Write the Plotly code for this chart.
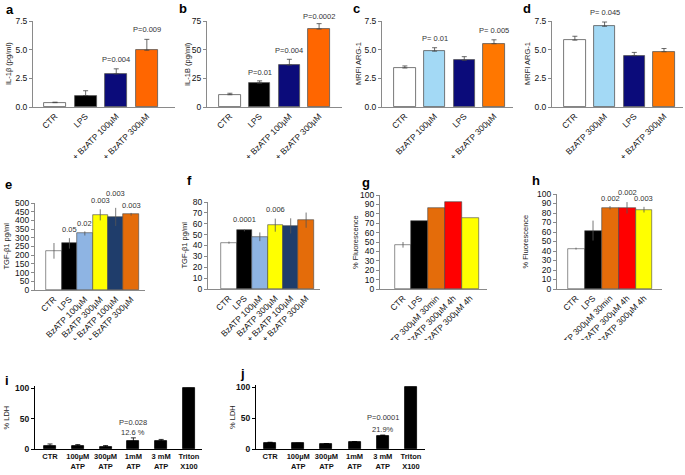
import plotly.graph_objects as go

W, H = 685, 475
FONT = "Liberation Sans, Arial, sans-serif"

# ---------------- data ----------------
a_cats = ["CTR", "LPS", "LPS + BzATP 100µM", "LPS + BzATP 300µM"]
a_vals = [0.38, 1.0, 2.88, 4.95]
a_errs = [0.04, 0.42, 0.45, 0.95]
a_cols = ["#ffffff", "#000000", "#0b0b7a", "#ff6600"]
a_pvals = [None, None, "P=0.004", "P=0.009"]
a_plev = [None, None, 3.6, 6.2]

b_cats = ["CTR", "LPS", "LPS + BzATP 100µM", "LPS + BzATP 300µM"]
b_vals = [10.7, 20.8, 36.6, 68.0]
b_errs = [1.3, 2.0, 5.0, 4.7]
b_cols = ["#ffffff", "#000000", "#0b0b7a", "#ff6600"]
b_pvals = [None, "P=0.01", "P=0.004", "P=0.0002"]
b_plev = [None, 24, 43.5, 73]

c_cats = ["CTR", "BzATP 100µM", "LPS", "LPS + BzATP 300µM"]
c_vals = [3.4, 4.87, 4.07, 5.52]
c_errs = [0.18, 0.3, 0.32, 0.34]
c_cols = ["#ffffff", "#a3d9f5", "#0b0b7a", "#ff7700"]
c_pvals = [None, "P= 0.01", None, "P= 0.005"]
c_plev = [None, 5.37, None, 6.1]

d_cats = ["CTR", "BzATP 300µM", "LPS", "LPS + BzATP 300µM"]
d_vals = [5.83, 7.04, 4.47, 4.82]
d_errs = [0.34, 0.37, 0.29, 0.28]
d_cols = ["#ffffff", "#a3d9f5", "#0b0b7a", "#ff7700"]
d_pvals = [None, "P= 0.045", None, None]
d_plev = [None, 7.68, None, None]

ef_cats = ["CTR", "LPS", "BzATP 100µM", "BzATP 300µM",
           "LPS + BzATP 100µM", "LPS + BzATP 300µM"]
ef_cols = ["#ffffff", "#000000", "#8eb4e3", "#ffff00", "#1f3d6b", "#e46c0a"]
e_vals = [225, 268, 325, 432, 420, 435]
e_errs = [45, 30, 12, 32, 52, 8]
e_pvals = [None, "0.05", "0.02", "0.003", "0.003", "0.003"]
e_plev = [None, 312, 346, 476, 518, 448]

f_vals = [42.6, 53.8, 48.0, 58.7, 58.0, 63.3]
f_errs = [1.0, 0.8, 4.0, 6.0, 7.0, 7.0]
f_pvals = [None, "0.0001", None, "0.006", None, None]
f_plev = [None, 58, None, 67, None, None]

gh_cats = ["CTR", "LPS", "LPS+BzATP 300µM 30min", "LPS+BzATP 300µM 4h",
           "BzATP 300µM 4h"]
gh_cols = ["#ffffff", "#000000", "#e46c0a", "#ff0000", "#ffff00"]
g_vals = [47, 72.5, 86.5, 92.5, 75.5]
g_errs = [3, 0, 0, 0, 0]

h_vals = [42.5, 61.5, 85.5, 85.5, 83.5]
h_errs = [1.0, 10.5, 1.8, 6.0, 3.0]
h_pvals = [None, None, "0.002", "0.002", "0.003"]
h_plev = [None, None, 88, 95, 88]

ij_cats = ["CTR", "100µM<br>ATP", "300µM<br>ATP", "1mM<br>ATP", "3 mM<br>ATP",
           "Triton<br>X100"]
i_vals = [4.5, 4.8, 3.2, 12.6, 12.8, 100]
i_errs = [3.8, 2.5, 2.5, 5.8, 3.0, 0]
i_notes = [(3, 44, "P=0.028"), (3, 27, "12.6 %")]
j_vals = [10.2, 9.0, 8.5, 11.5, 21.9, 100]
j_errs = [0.8, 0.4, 0.4, 0.6, 0.8, 0]
j_notes = [(4, 52, "P=0.0001"), (4, 32, "21.9%")]

# ---------------- layout helpers ----------------
fig = go.Figure()
layout = dict(width=W, height=H, margin=dict(l=0, r=0, t=0, b=0),
              paper_bgcolor="white", plot_bgcolor="white",
              showlegend=False, font=dict(family=FONT, size=8, color="#222"),
              bargap=0)
annotations = []
shapes = []


def px_dom(a, b, total):
    return [a / total, b / total]


def ydom(top, bottom):
    return [1 - bottom / H, 1 - top / H]


def to_paper(v, rng, dom):
    return dom[0] + (v - rng[0]) / (rng[1] - rng[0]) * (dom[1] - dom[0])


def add_panel(n, cats, vals, errs, cols, xr, yr, xpx, ypx, ytick, width,
              style, ytitle, ytitle_x, letter, letter_xy, pvals=None,
              plev=None, sym=False, tickangle=-45, notes=None):
    xa = "x" if n == 1 else f"x{n}"
    ya = "y" if n == 1 else f"y{n}"
    idx = list(range(len(cats)))
    if style == "prism":
        line_col, err_col, axc, lw = "#555555", "#444444", "#8a8a8a", 0.8
    elif style == "excel":
        line_col, err_col, axc, lw = "#444444", "#555555", "#8a8a8a", 0.6
    else:
        line_col, err_col, axc, lw = "#000000", "#000000", "#000000", 0.8
    ey = dict(type="data", array=errs, color=err_col, thickness=0.8,
              width=2.5 if style != "excel" else 0, visible=True)
    if not sym:
        ey.update(symmetric=False, arrayminus=[0] * len(errs))
    else:
        ey.update(symmetric=True)
    fig.add_trace(go.Bar(x=idx, y=vals, marker=dict(color=cols,
                         line=dict(color=line_col, width=lw)),
                         width=width, error_y=ey, xaxis=xa, yaxis=ya,
                         hoverinfo="skip"))
    keyx = "xaxis" if n == 1 else f"xaxis{n}"
    keyy = "yaxis" if n == 1 else f"yaxis{n}"
    bold = style == "ldh"
    xfont = dict(family=FONT, size=7.5 if bold else 8.5, color="#111")
    yfont = dict(family=FONT, size=8.5, color="#111")
    xdom = px_dom(xpx[0], xpx[1], W)
    yd = ydom(ypx[0], ypx[1])
    if style == "prism" and yr[1] < 10:
        ylabels = [f"{v:.1f}" for v in ytick]
    else:
        ylabels = [str(v) for v in ytick]
    if bold:
        ylabels = [f"<b>{t}</b>" for t in ylabels]
    layout[keyx] = dict(domain=xdom, range=xr, automargin=False,
                        anchor=ya, tickmode="array", tickvals=idx,
                        ticktext=[f"<b>{c}</b>" if bold else c for c in cats],
                        tickangle=tickangle, ticks="", showgrid=False,
                        zeroline=False, showline=True, linecolor=axc,
                        linewidth=1, tickfont=xfont, fixedrange=True,
                        ticklabeloverflow="allow")
    layout[keyy] = dict(domain=yd, range=yr, anchor=xa, automargin=False,
                        tickmode="array", tickvals=ytick, ticktext=ylabels,
                        ticks="outside", ticklen=3, tickcolor=axc,
                        showgrid=False, zeroline=False, showline=True,
                        linecolor=axc, linewidth=1, tickfont=yfont,
                        fixedrange=True, ticklabeloverflow="allow")
    annotations.append(dict(text=ytitle, textangle=-90, xref="paper",
                            yref="paper", x=ytitle_x / W,
                            y=1 - (ypx[0] + ypx[1]) / 2 / H,
                            showarrow=False, xanchor="center",
                            yanchor="middle",
                            font=dict(family=FONT, size=7.5, color="#222")))
    annotations.append(dict(text=f"<b>{letter}</b>", xref="paper",
                            yref="paper", x=letter_xy[0] / W,
                            y=1 - letter_xy[1] / H, showarrow=False,
                            xanchor="left", yanchor="middle",
                            font=dict(family=FONT, size=13, color="#000")))
    if pvals:
        for i, p in enumerate(pvals):
            if p is None:
                continue
            annotations.append(dict(text=p, xref="paper", yref="paper",
                                    x=to_paper(i, xr, xdom),
                                    y=to_paper(plev[i], yr, yd),
                                    showarrow=False, yanchor="bottom",
                                    xanchor="center",
                                    font=dict(family=FONT, size=7.5,
                                              color="#333333")))
    if notes:
        for xi, yv, t in notes:
            annotations.append(dict(text=t, xref="paper", yref="paper",
                                    x=to_paper(xi, xr, xdom),
                                    y=to_paper(yv, yr, yd),
                                    showarrow=False, yanchor="middle",
                                    xanchor="center",
                                    font=dict(family=FONT, size=7.5,
                                              color="#333333")))


# row 1
add_panel(1, a_cats, a_vals, a_errs, a_cols, [-0.72, 3.92], [0, 7.5],
          (33, 175), (21, 107), [0, 2.5, 5.0, 7.5], 0.72, "prism",
          "IL-1β (pg/ml)", 8, "a", (4, 10), a_pvals, a_plev)
add_panel(2, b_cats, b_vals, b_errs, b_cols, [-0.77, 3.77], [0, 75],
          (207, 342), (21, 107), [0, 25, 50, 75], 0.72, "prism",
          "IL-1B (pg/ml)", 187, "b", (177, 9), b_pvals, b_plev)
add_panel(3, c_cats, c_vals, c_errs, c_cols, [-0.77, 3.64], [0, 7.5],
          (382, 513), (21, 107), [0, 2.5, 5.0, 7.5], 0.72, "prism",
          "MRFI ARG-1", 358, "c", (351, 9), c_pvals, c_plev)
add_panel(4, d_cats, d_vals, d_errs, d_cols, [-0.77, 3.64], [0, 7.5],
          (552, 683), (21, 107), [0, 2.5, 5.0, 7.5], 0.72, "prism",
          "MRFI ARG-1", 527, "d", (521, 9), d_pvals, d_plev)

# row 2
add_panel(5, ef_cats, e_vals, e_errs, ef_cols, [-1.23, 5.9], [0, 500],
          (35, 145), (203, 290), list(range(0, 501, 50)), 1.0, "excel",
          "TGF-β1 pg/ml", 6, "e", (3, 184), e_pvals, e_plev, sym=True)
add_panel(6, ef_cats, f_vals, f_errs, ef_cols, [-1.36, 5.9], [0, 80],
          (208, 320), (202, 289), list(range(0, 81, 10)), 1.0, "excel",
          "TGF-β1 pg/ml", 184, "f", (185, 181), f_pvals, f_plev, sym=True)
add_panel(7, gh_cats, g_vals, g_errs, gh_cols, [-1.37, 5.0], [0, 100],
          (380, 487), (195, 289), list(range(0, 101, 10)), 1.0, "excel",
          "% Fluorescence", 355, "g", (360, 182), sym=True)
add_panel(8, gh_cats, h_vals, h_errs, gh_cols, [-1.12, 5.06], [0, 100],
          (557, 662), (194, 289), list(range(0, 101, 10)), 1.0, "excel",
          "% Fluorescence", 525, "h", (530, 181), h_pvals, h_plev, sym=True)

# row 3
add_panel(9, ij_cats, i_vals, i_errs, ["#000000"] * 6, [-0.54, 5.47],
          [0, 104], (35, 202), (386, 449), [0, 50, 100], 0.43, "ldh",
          "% LDH", 6, "i", (3, 380), tickangle=0, notes=i_notes)
add_panel(10, ij_cats, j_vals, j_errs, ["#000000"] * 6, [-0.5, 5.5],
          [0, 104], (256, 425), (385, 449), [0, 50, 100], 0.43, "ldh",
          "% LDH", 232, "j", (238, 373), tickangle=0, notes=j_notes)

# white bands emulate the cropped edges of the original panel images
shapes += [
    dict(type="rect", xref="paper", yref="paper", x0=0, x1=1,
         y0=1 - 179 / H, y1=1 - 158 / H, fillcolor="white",
         line=dict(width=0), layer="above"),
    dict(type="rect", xref="paper", yref="paper", x0=0, x1=340 / W,
         y0=1 - 368 / H, y1=1 - 340 / H, fillcolor="white",
         line=dict(width=0), layer="above"),
    dict(type="rect", xref="paper", yref="paper", x0=340 / W, x1=1,
         y0=1 - 385 / H, y1=1 - 340 / H, fillcolor="white",
         line=dict(width=0), layer="above"),
]

layout["annotations"] = annotations
layout["shapes"] = shapes
fig.update_layout(**layout)
fig.update_traces(cliponaxis=False)
fig.write_html("out.html", config={"displayModeBar": False},
               post_script="document.body.style.margin='0';"
                           "document.body.style.overflow='hidden';")
